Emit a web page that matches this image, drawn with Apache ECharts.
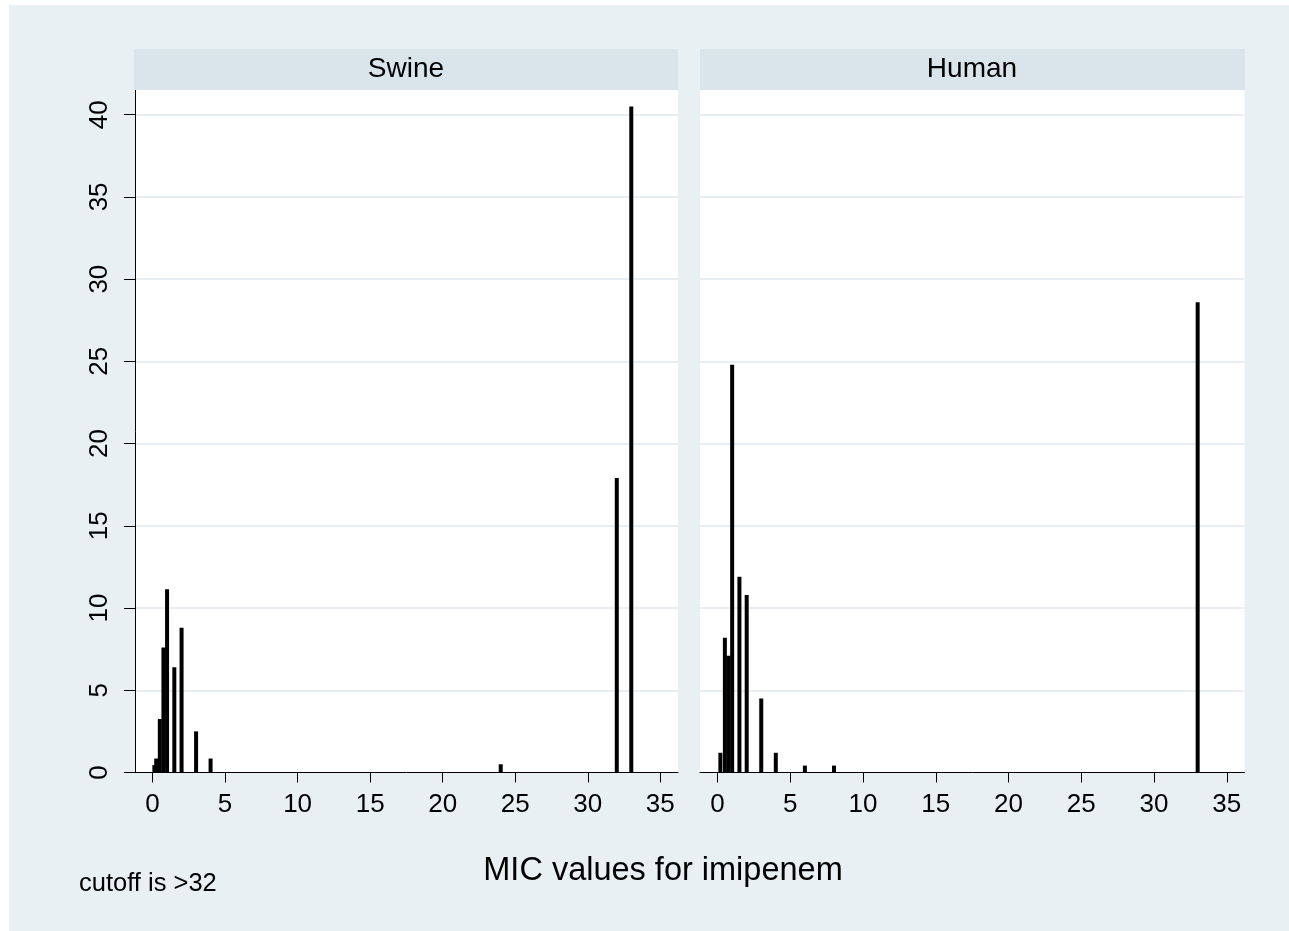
<!DOCTYPE html>
<html>
<head>
<meta charset="utf-8">
<script src="https://cdn.jsdelivr.net/npm/echarts@6/dist/echarts.min.js"></script>
<style>
html,body{margin:0;padding:0;background:#ffffff;}
#chart{width:1289px;height:931px;}
</style>
</head>
<body>
<div id="chart"></div>
<script>
// ---- data (percent of isolates by MIC value; 33 = ">32") ----
const panelTitles = ['Swine', 'Human'];
const swineMic = [0.125, 0.25, 0.5, 0.75, 1, 1.5, 2, 3, 4, 24, 32, 33];
const swinePct = [0.45, 0.85, 3.25, 7.6, 11.15, 6.4, 8.8, 2.5, 0.85, 0.5, 17.9, 40.5];
const humanMic = [0.19, 0.5, 0.75, 1, 1.5, 2, 3, 4, 6, 8, 33];
const humanPct = [1.2, 8.2, 7.1, 24.8, 11.9, 10.8, 4.5, 1.2, 0.42, 0.42, 28.6];
const xTicks = [0, 5, 10, 15, 20, 25, 30, 35];
const yTicks = [0, 5, 10, 15, 20, 25, 30, 35, 40];
const xTitle = 'MIC values for imipenem';
const note = 'cutoff is >32';

const FONT = 'Liberation Sans, Arial, Helvetica, sans-serif';
const chart = echarts.init(document.getElementById('chart'), null, {renderer: 'canvas'});

function pairs(xs, ys) { return xs.map((x, i) => [x, ys[i]]); }

const grids = [
  {left: 135, top: 90, width: 543, height: 682.5},
  {left: 700, top: 90, width: 544.5, height: 682.5}
];

function xAxisFor(i) {
  return {
    type: 'value', gridIndex: i, min: -1.21, max: 36.22,
    axisLine: {show: true, onZero: false, lineStyle: {color: '#000', width: 1}},
    axisTick: {show: true, length: 10, lineStyle: {color: '#000', width: 1}, customValues: xTicks},
    axisLabel: {show: true, color: '#000', fontSize: 26, fontFamily: FONT, margin: 19, customValues: xTicks},
    splitLine: {show: false}
  };
}
function yAxisFor(i) {
  return {
    type: 'value', gridIndex: i, min: 0, max: 41.5,
    axisLine: {show: i === 0, onZero: false, lineStyle: {color: '#000', width: 1}},
    axisTick: {show: i === 0, length: 11, lineStyle: {color: '#000', width: 1}, customValues: yTicks},
    axisLabel: {show: i === 0, color: '#000', fontSize: 26, fontFamily: FONT, rotate: 90, margin: 22, customValues: yTicks},
    splitLine: {show: true, lineStyle: {color: '#e8eef1', width: 2}}
  };
}

const option = {
  backgroundColor: '#ffffff',
  animation: false,
  graphic: [
    {type: 'rect', left: 9, top: 5, shape: {width: 1280, height: 926}, style: {fill: '#e9f0f3'}, z: -10},
    {type: 'rect', left: 134, top: 49, shape: {width: 544, height: 41}, style: {fill: '#d9e5eb'}, z: 1},
    {type: 'rect', left: 700, top: 49, shape: {width: 545, height: 41}, style: {fill: '#d9e5eb'}, z: 1},
    {type: 'text', x: 406, y: 69, style: {text: panelTitles[0], fill: '#000', font: '28px ' + FONT, textAlign: 'center', textVerticalAlign: 'middle'}, z: 2},
    {type: 'text', x: 972, y: 69, style: {text: panelTitles[1], fill: '#000', font: '28px ' + FONT, textAlign: 'center', textVerticalAlign: 'middle'}, z: 2},
    {type: 'text', x: 663, y: 871, style: {text: xTitle, fill: '#000', font: '32.5px ' + FONT, textAlign: 'center', textVerticalAlign: 'middle'}, z: 2},
    {type: 'text', x: 79, y: 884, style: {text: note, fill: '#000', font: '25.5px ' + FONT, textAlign: 'left', textVerticalAlign: 'middle'}, z: 2}
  ],
  grid: grids.map(g => Object.assign({show: true, backgroundColor: '#ffffff', borderWidth: 0}, g)),
  xAxis: [xAxisFor(0), xAxisFor(1)],
  yAxis: [yAxisFor(0), yAxisFor(1)],
  series: [
    {type: 'bar', xAxisIndex: 0, yAxisIndex: 0, data: pairs(swineMic, swinePct), barWidth: 4,
     itemStyle: {color: '#000'}, silent: true},
    {type: 'bar', xAxisIndex: 1, yAxisIndex: 1, data: pairs(humanMic, humanPct), barWidth: 4,
     itemStyle: {color: '#000'}, silent: true}
  ]
};
chart.setOption(option);
</script>
</body>
</html>
